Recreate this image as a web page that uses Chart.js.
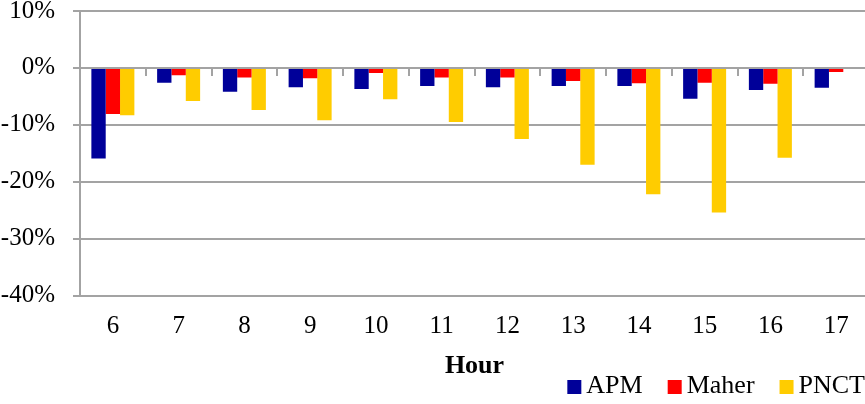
<!DOCTYPE html>
<html>
<head>
<meta charset="utf-8">
<script src="https://cdn.jsdelivr.net/npm/chart.js@4/dist/chart.umd.min.js"></script>
<style>
  html, body { margin: 0; padding: 0; background: #fff; overflow: hidden; }
  #wrap { width: 869px; height: 404px; position: relative; }
</style>
</head>
<body>
<div id="wrap"><canvas id="chart"></canvas></div>
<script>
// Hourly change by terminal (percent)
const hours = ['6', '7', '8', '9', '10', '11', '12', '13', '14', '15', '16', '17'];
const apm   = [-15.9, -2.6, -4.2, -3.4, -3.7, -3.2, -3.4, -3.2, -3.2, -5.4, -3.9, -3.5];
const maher = [-8.1, -1.3, -1.7, -1.8, -0.9, -1.7, -1.7, -2.3, -2.7, -2.6, -2.8, -0.7];
const pnct  = [-8.3, -5.8, -7.4, -9.2, -5.5, -9.5, -12.5, -17.0, -22.2, -25.4, -15.8, 0];

const seriesNames = ['APM', 'Maher', 'PNCT'];
const seriesColors = ['#000099', '#ff0000', '#ffcc00'];

const yMin = -40, yMax = 10, yStep = 10;
const axisTitle = 'Hour';

const SERIF = "'Liberation Serif', 'Times New Roman', serif";
const GRID = '#a3a3a3';

// Legend row drawn in the bottom-right corner, right-aligned
const cornerLegend = {
  id: 'cornerLegend',
  afterDraw(chart) {
    const ctx = chart.ctx;
    const box = 14, gap = 5, spacing = 25;
    ctx.save();
    ctx.font = '26px ' + SERIF;
    ctx.textBaseline = 'middle';
    ctx.textAlign = 'left';
    const items = chart.data.datasets.map(ds => ({
      text: ds.label, color: ds.backgroundColor, w: ctx.measureText(ds.label).width
    }));
    let total = 0;
    items.forEach((it, i) => { total += box + gap + it.w + (i ? spacing : 0); });
    let x = chart.width - 4 - total;
    const cy = chart.height - 18;
    items.forEach(it => {
      ctx.fillStyle = it.color;
      ctx.fillRect(x, cy - box / 2 + 1, box, box);
      ctx.fillStyle = '#000';
      ctx.fillText(it.text, x + box + gap, cy);
      x += box + gap + it.w + spacing;
    });
    ctx.restore();
  }
};

new Chart(document.getElementById('chart'), {
  type: 'bar',
  data: {
    labels: hours,
    datasets: [
      { label: seriesNames[0], data: apm,   backgroundColor: seriesColors[0] },
      { label: seriesNames[1], data: maher, backgroundColor: seriesColors[1] },
      { label: seriesNames[2], data: pnct,  backgroundColor: seriesColors[2] }
    ]
  },
  options: {
    responsive: true,
    maintainAspectRatio: false,
    animation: false,
    layout: { padding: { top: 11, right: 0, bottom: 21.5, left: 0 } },
    datasets: { bar: { barPercentage: 1, categoryPercentage: 0.654, borderWidth: 0 } },
    plugins: {
      legend: { display: false },
      tooltip: { enabled: false }
    },
    scales: {
      x: {
        type: 'category',
        position: 'bottom',
        offset: true,
        grid: { display: false, drawTicks: true, tickLength: 13 },
        border: { display: false },
        ticks: { color: '#000', padding: 4, maxRotation: 0, font: { family: SERIF, size: 25, lineHeight: 1.15 } },
        title: {
          display: true, text: axisTitle, color: '#000',
          font: { family: SERIF, size: 26, weight: 'bold', lineHeight: 1.2 },
          padding: { top: 5, bottom: 1 }
        }
      },
      xZero: {
        type: 'category',
        axis: 'x',
        labels: hours,
        position: { y: 0 },
        offset: true,
        grid: { offset: true, drawOnChartArea: false, drawTicks: true, tickLength: 7, color: GRID, lineWidth: 2 },
        border: { display: true, color: GRID, width: 2 },
        ticks: { display: false }
      },
      y: {
        min: yMin,
        max: yMax,
        grid: { color: GRID, lineWidth: 2, drawTicks: true, tickLength: 7 },
        border: { display: true, color: GRID, width: 2 },
        ticks: {
          stepSize: yStep,
          color: '#000',
          padding: 18,
          font: { family: SERIF, size: 25, lineHeight: 1.2 },
          callback: v => v + '%'
        },
        afterFit(scale) {
          scale.width = 80;
          scale.paddingTop = 0;
          scale.paddingBottom = 0;
        }
      }
    }
  },
  plugins: [cornerLegend]
});
</script>
</body>
</html>
